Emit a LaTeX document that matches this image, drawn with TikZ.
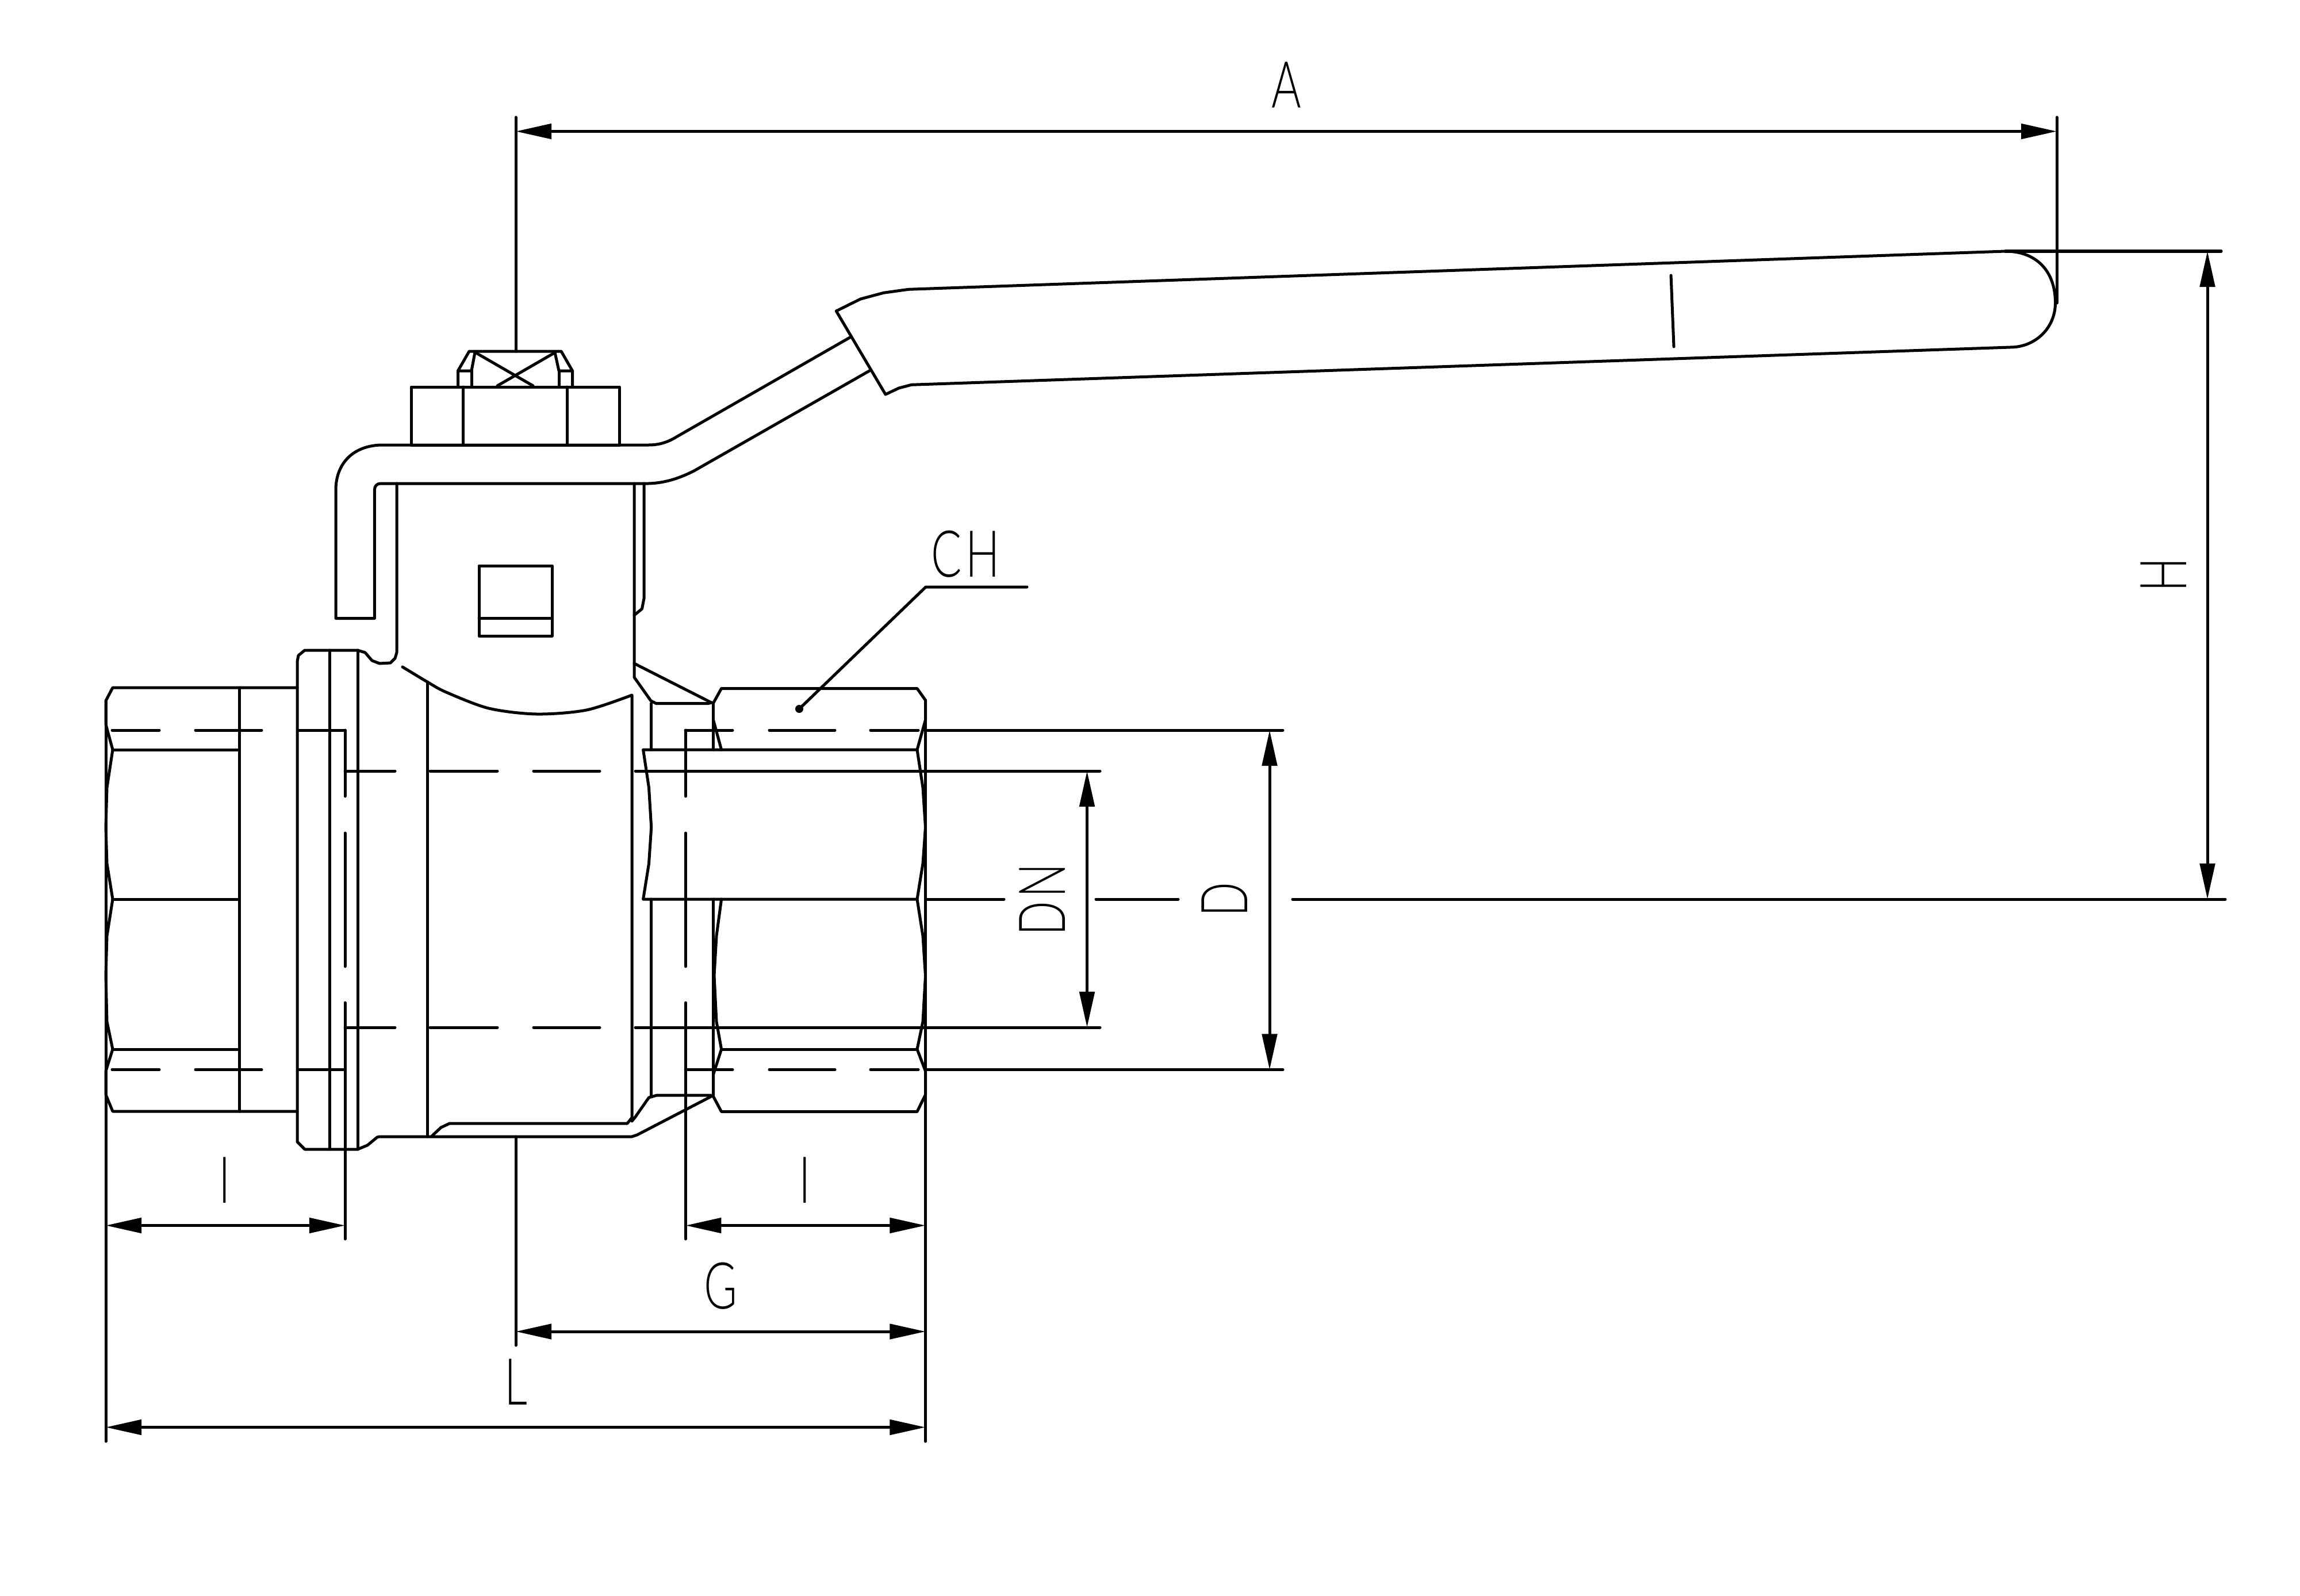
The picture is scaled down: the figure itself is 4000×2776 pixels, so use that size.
\documentclass[tikz,border=0pt]{standalone}
\usepackage{fontspec}
\setsansfont{Lato}[UprightFont=* Light]
\usetikzlibrary{arrows.meta}
\tikzset{
  dimtip/.tip={Triangle[length=0.62cm,width=0.26cm]},
  part/.style={line width=0.05cm,line join=round,line cap=round},
  dimline/.style={part,dimtip-dimtip},
  lettering/.style={inner sep=0pt,font=\fontsize{32}{32}\sffamily,xscale=0.7},
  vlettering/.style={inner sep=0pt,font=\fontsize{32}{32}\sffamily,rotate=90,xscale=0.7}
}
\begin{document}
\begin{tikzpicture}[x=0.01cm,y=-0.01cm]
\useasboundingbox (0,0) rectangle (4000,2776);
% left end
\draw[part] (517,1196) -- (196,1196) -- (184,1219) -- (184,1260) -- (196,1304) -- (186,1370) -- (184,1439) -- (186,1502) -- (196,1564) -- (186,1628) -- (184,1697) -- (186,1777) -- (196,1825) -- (184,1863) -- (184,1904) -- (196,1933) -- (517,1933);
\foreach \y in {1304,1564,1825} \draw[part] (196,\y) -- (416,\y) ;
\draw[part] (416,1196) -- (416,1933) ;
% flange and body
\draw[part] (690,841) -- (690,1135) -- (687,1145) -- (679,1153) -- (660,1154) -- (647,1149) -- (635,1135) -- (622,1131) -- (530,1131) -- (519,1140) -- (517,1150) -- (517,1986) -- (530,1999) -- (622,1999) -- (639,1992) -- (656,1978) -- (660,1977) -- (1099,1977) -- (1108,1974) -- (1237,1907) ;
\foreach \x in {573.5,622} \draw[part] (\x,1131) -- (\x,1999) ;
\draw[part] plot[smooth,tension=0.5] coordinates {(700,1160) (743,1186) (776,1204) (850,1232) (933,1242) (1020,1235) (1099,1209)} -- (1099,1944) -- (1091,1954) -- (782,1954) -- (767,1961) -- (751,1976) ;
\draw[part] (743.5,1186) -- (743.5,1977) ;
\draw[part] (1103,841) -- (1103,1178) -- (1132,1219) -- (1141,1223.5) -- (1232,1223.5) -- (1238,1222) ;
\draw[part] (1120,841) -- (1120,1041) -- (1116.5,1059) -- (1103,1070) ;
\draw[part] (1103,1154) -- (1237,1222) ;
\draw[part] (1099,1950) -- (1104,1944) -- (1128.5,1909) -- (1142.5,1905) -- (1236,1905) -- (1240.5,1907) ;
\foreach \a/\b in {1223.5/1304,1564/1906} \draw[part] (1132.7,\a) -- (1132.7,\b) ;
% right end
\draw[part] (1240.5,1223) -- (1254.6,1197.5) -- (1595,1197.5) -- (1609.5,1218) -- (1609.5,1252) -- (1595,1304) -- (1605,1370) -- (1609.5,1439) -- (1605,1502) -- (1595,1564) -- (1605,1628) -- (1609.5,1697) -- (1605,1777) -- (1595,1825) -- (1609.5,1863) -- (1609.5,1904) -- (1595,1933.5) -- (1254.6,1933.5) -- (1240.5,1907) -- (1240.5,1869) -- (1254.6,1825) -- (1246,1777) -- (1242,1697) -- (1246,1628) -- (1254.6,1564) ;
\draw[part] (1240.5,1252) -- (1254.6,1304) ;
\foreach \a/\b in {1223/1304,1564/1906} \draw[part] (1240.5,\a) -- (1240.5,\b) ;
\draw[part] (1254.6,1825) -- (1595,1825) ;
\draw[part] (1595,1304) -- (1118.6,1304) -- (1128.5,1370) -- (1132.7,1439) -- (1128.5,1502) -- (1118.6,1564) -- (1595,1564) ;
% stem and nut
\draw[part] (715,774) rectangle (1077.5,673) ;
\foreach \x in {805.5,986} \draw[part] (\x,673) -- (\x,774) ;
\draw[part] (796.5,673) -- (796.5,645) -- (816,611) -- (976,611) -- (995.5,645) -- (995.5,673) ;
\draw[part] (796.5,645) -- (820,645) -- (826,613) ;
\draw[part] (995.5,645) -- (972,645) -- (965,613) ;
\foreach \x in {820,972} \draw[part] (\x,645) -- (\x,673) ;
\draw[part] (830,615) -- (927,671) ;
\draw[part] (962,615) -- (865,671) ;
\draw[part] (833,984) rectangle (960,1106) ;
\draw[part] (833,1075) -- (960,1075) ;
% lever
\draw[part] (1478,587) -- (1178,759) .. controls (1165,767) and (1150,774) .. (1128,774) -- (662,774) .. controls (610,776) and (584,810) .. (584,852) -- (584,1075.5) -- (651.4,1075.5) -- (651.4,852) .. controls (651.4,846) and (655,841) .. (662,841) -- (1128,841) .. controls (1160,840) and (1185,830) .. (1207,819) -- (1512,645) ;
\draw[part] (1454.3,541) -- (1496.7,520) -- (1536.7,509.3) -- (1580,503.3) -- (3487.5,437) .. controls (3540,437) and (3574.5,470) .. (3574.5,527) .. controls (3574.5,570) and (3540,604) .. (3496,604) -- (1585,669.3) -- (1563.3,675) -- (1540,686) -- cycle ;
\draw[part] (2906,479) -- (2911,603) ;
% dashed edges
\foreach \y in {1270,1860.5} {
  \foreach \a/\b in {195/277,340/455,519/600,1192/1274,1338/1452,1514/1597} \draw[part] (\a,\y) -- (\b,\y) ;
  \draw[part] (1609.5,\y) -- (2231,\y) ;
}
\foreach \y in {1341,1787} {
  \foreach \a/\b in {600/687,748/865,928/1043} \draw[part] (\a,\y) -- (\b,\y) ;
  \draw[part] (1105,\y) -- (1913,\y) ;
}
\foreach \x in {600,1192.4} {
  \foreach \a/\b in {1270/1385,1449/1681,1744/2155} \draw[part] (\x,\a) -- (\x,\b) ;
}
\foreach \a/\b in {1609.5/1746,1906/2049,2248/3870} \draw[part] (\a,1564) -- (\b,1564) ;
% extension lines
\draw[part] (184,1219) -- (184,2507) ;
\draw[part] (1609.5,1218) -- (1609.5,2507) ;
\draw[part] (897,204) -- (897,611) ;
\draw[part] (3577,204) -- (3577,527) ;
\draw[part] (3487.5,437) -- (3863,437) ;
\draw[part] (897,1977) -- (897,2340) ;
% dimensions
\coordinate (leverL) at (897,228.5);
\coordinate (leverR) at (3577,228.5);
\coordinate (heightT) at (3839,437);
\coordinate (heightB) at (3839,1564);
\coordinate (bodyT) at (2208,1270);
\coordinate (bodyB) at (2208,1860.5);
\coordinate (boreT) at (1890.5,1341);
\coordinate (boreB) at (1890.5,1787);
\draw[dimline] (leverL) -- (leverR) ;
\draw[dimline] (heightT) -- (heightB) ;
\draw[dimline] (bodyT) -- (bodyB) ;
\draw[dimline] (boreT) -- (boreB) ;
\draw[dimline] (184,2131.5) -- (600,2131.5) ;
\draw[dimline] (1192.4,2131.5) -- (1609.5,2131.5) ;
\draw[dimline] (897,2316) -- (1609.5,2316) ;
\draw[dimline] (184,2482.5) -- (1609.5,2482.5) ;
% CH leader
\draw[part] (1786,1021) -- (1610,1021) -- (1390,1233) ;
\fill (1390,1233) circle (0.07cm) ;
% labels
\node[lettering] (labA) at (2237,148) {A};
\node[lettering] (labCH) at (1679,964) {C\hspace{0.08em}H};
\node[lettering] (labG) at (1253,2237) {G};
\node[lettering] (labL) at (897,2404) {L};
\node[lettering] (labIa) at (391,2053) {I};
\node[lettering] (labIb) at (1400,2053) {I};
\node[vlettering] (labH) at (3763,1000) {H};
\node[vlettering] (labDN) at (1812.5,1564.5) {D\hspace{0.08em}N};
\node[vlettering] (labD) at (2130,1565) {D};
\end{tikzpicture}
\end{document}
